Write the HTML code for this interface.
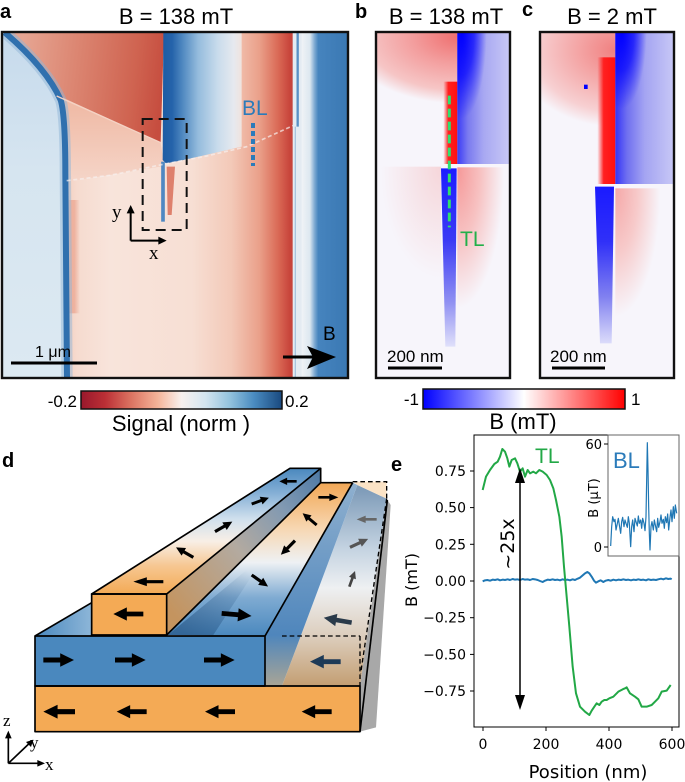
<!DOCTYPE html>
<html><head><meta charset="utf-8">
<style>
html,body{margin:0;padding:0;background:#fff;}
svg{display:block;}
.t{font-family:"Liberation Sans",Arial,sans-serif;}
.d{font-family:"DejaVu Sans","Liberation Sans",sans-serif;}
.s{font-family:"Liberation Serif",serif;}
</style></head><body>
<svg width="685" height="782" viewBox="0 0 685 782" xmlns="http://www.w3.org/2000/svg">
<defs>
<clipPath id="cA"><rect x="5" y="97" width="1038" height="1036"/></clipPath>
<clipPath id="cB"><rect x="47" y="97" width="403" height="1036"/></clipPath>
<clipPath id="cC"><rect x="540" y="97" width="402" height="1036"/></clipPath>
<linearGradient id="gAmid" gradientUnits="userSpaceOnUse" x1="190" y1="0" x2="890" y2="0">
<stop offset="0" stop-color="#f3cdbd"/><stop offset="0.06" stop-color="#f6dbcf"/><stop offset="0.2" stop-color="#f8e4db"/><stop offset="0.55" stop-color="#f7dfd4"/><stop offset="0.72" stop-color="#f3c9b8"/><stop offset="0.84" stop-color="#eaa08a"/><stop offset="0.92" stop-color="#da6a56"/><stop offset="0.97" stop-color="#c8453c"/><stop offset="1" stop-color="#c3423a"/>
</linearGradient>
<linearGradient id="gAstr" gradientUnits="userSpaceOnUse" x1="198" y1="0" x2="240" y2="0">
<stop offset="0" stop-color="#eca893" stop-opacity="0"/><stop offset="0.35" stop-color="#eca893" stop-opacity="0.8"/><stop offset="0.6" stop-color="#eca893" stop-opacity="0.8"/><stop offset="1" stop-color="#eca893" stop-opacity="0"/>
</linearGradient>
<linearGradient id="gAleft" gradientUnits="userSpaceOnUse" x1="0" y1="97" x2="0" y2="1133">
<stop offset="0" stop-color="#c6daec"/><stop offset="0.4" stop-color="#d6e5f0"/><stop offset="1" stop-color="#dce9f2"/>
</linearGradient>
<linearGradient id="gAred" gradientUnits="userSpaceOnUse" x1="60" y1="200" x2="490" y2="250">
<stop offset="0" stop-color="#e6a592"/><stop offset="0.4" stop-color="#db8470"/><stop offset="0.8" stop-color="#cf6350"/><stop offset="1" stop-color="#c64d3f"/>
</linearGradient>
<linearGradient id="gAsal" gradientUnits="userSpaceOnUse" x1="0" y1="330" x2="0" y2="545">
<stop offset="0" stop-color="#f0bca8"/><stop offset="1" stop-color="#f5d5c8"/>
</linearGradient>
<linearGradient id="gAblue" gradientUnits="userSpaceOnUse" x1="488" y1="0" x2="725" y2="0">
<stop offset="0" stop-color="#1d5ca4"/><stop offset="0.12" stop-color="#2563aa"/><stop offset="0.25" stop-color="#4f88c0"/><stop offset="0.45" stop-color="#95bcdd"/><stop offset="0.7" stop-color="#c9dcec"/><stop offset="0.9" stop-color="#e6e9ef"/><stop offset="1" stop-color="#f0e3de"/>
</linearGradient>
<linearGradient id="gAright" gradientUnits="userSpaceOnUse" x1="905" y1="0" x2="1043" y2="0">
<stop offset="0" stop-color="#f0f3f6"/><stop offset="0.18" stop-color="#dce7f0"/><stop offset="0.28" stop-color="#7eaad2"/><stop offset="0.36" stop-color="#4684be"/><stop offset="1" stop-color="#3a78b3"/>
</linearGradient>
<radialGradient id="rBul" gradientUnits="userSpaceOnUse" cx="0" cy="0" r="1" gradientTransform="translate(292,110) scale(340,200)">
<stop offset="0" stop-color="#ef7070"/><stop offset="0.4" stop-color="#f39e9e"/><stop offset="0.8" stop-color="#f6c6c6"/><stop offset="1" stop-color="#f7f5fb"/>
</radialGradient>
<linearGradient id="gRedS" x1="0" y1="0" x2="1" y2="0">
<stop offset="0" stop-color="#ff3030" stop-opacity="0"/><stop offset="0.35" stop-color="#ff2020"/><stop offset="1" stop-color="#ff1010"/>
</linearGradient>
<linearGradient id="gBbh" gradientUnits="userSpaceOnUse" x1="292" y1="0" x2="450" y2="0">
<stop offset="0" stop-color="#3c3cf6"/><stop offset="0.2" stop-color="#7a7af0"/><stop offset="0.5" stop-color="#a8a8f2"/><stop offset="1" stop-color="#c8c8f6"/>
</linearGradient>
<radialGradient id="rBdk" gradientUnits="userSpaceOnUse" cx="0" cy="0" r="1" gradientTransform="translate(305,97) scale(75,260)">
<stop offset="0" stop-color="#0000ff" stop-opacity="1"/><stop offset="0.5" stop-color="#0000ff" stop-opacity="0.7"/><stop offset="1" stop-color="#0000ff" stop-opacity="0"/>
</radialGradient>
<linearGradient id="gBlb" gradientUnits="userSpaceOnUse" x1="0" y1="505" x2="0" y2="1040">
<stop offset="0" stop-color="#1c1cff"/><stop offset="0.4" stop-color="#3a3af5"/><stop offset="0.75" stop-color="#9090f2"/><stop offset="1" stop-color="#e0e0fa"/>
</linearGradient>
<radialGradient id="rBlr" gradientUnits="userSpaceOnUse" cx="0" cy="0" r="1" gradientTransform="translate(292,505) scale(140,420)">
<stop offset="0" stop-color="#f59898"/><stop offset="0.5" stop-color="#f7c2c2"/><stop offset="1" stop-color="#f7f5fb"/>
</radialGradient>
<radialGradient id="rBll" gradientUnits="userSpaceOnUse" cx="0" cy="0" r="1" gradientTransform="translate(243,505) scale(180,330)">
<stop offset="0" stop-color="#f6d6da"/><stop offset="1" stop-color="#f7f5fb"/>
</radialGradient>
<radialGradient id="rCul" gradientUnits="userSpaceOnUse" cx="0" cy="0" r="1" gradientTransform="translate(766,150) scale(300,230)">
<stop offset="0" stop-color="#f08080"/><stop offset="0.4" stop-color="#f4a8a8"/><stop offset="0.8" stop-color="#f7d0d2"/><stop offset="1" stop-color="#f7f5fb"/>
</radialGradient>
<linearGradient id="gCbh" gradientUnits="userSpaceOnUse" x1="766" y1="0" x2="942" y2="0">
<stop offset="0" stop-color="#3434f8"/><stop offset="0.2" stop-color="#7070f0"/><stop offset="0.5" stop-color="#a4a4f2"/><stop offset="1" stop-color="#c8c8f6"/>
</linearGradient>
<radialGradient id="rCdk" gradientUnits="userSpaceOnUse" cx="0" cy="0" r="1" gradientTransform="translate(785,97) scale(75,230)">
<stop offset="0" stop-color="#0000ff" stop-opacity="1"/><stop offset="0.5" stop-color="#0000ff" stop-opacity="0.7"/><stop offset="1" stop-color="#0000ff" stop-opacity="0"/>
</radialGradient>
<linearGradient id="gClb" gradientUnits="userSpaceOnUse" x1="0" y1="560" x2="0" y2="1030">
<stop offset="0" stop-color="#1a1aff"/><stop offset="0.35" stop-color="#3030f8"/><stop offset="0.7" stop-color="#8080f0"/><stop offset="1" stop-color="#dcdcfa"/>
</linearGradient>
<radialGradient id="rClr" gradientUnits="userSpaceOnUse" cx="0" cy="0" r="1" gradientTransform="translate(766,570) scale(135,380)">
<stop offset="0" stop-color="#f5a8a8"/><stop offset="0.5" stop-color="#f7caca"/><stop offset="1" stop-color="#f7f5fb"/>
</radialGradient>
<linearGradient id="gRdBu" x1="0" y1="0" x2="1" y2="0">
<stop offset="0" stop-color="#98182c"/><stop offset="0.12" stop-color="#bb2f35"/><stop offset="0.25" stop-color="#dc7462"/><stop offset="0.38" stop-color="#f4b398"/><stop offset="0.5" stop-color="#f7f1ee"/><stop offset="0.62" stop-color="#d3e5f0"/><stop offset="0.74" stop-color="#93c3de"/><stop offset="0.86" stop-color="#4a8cc1"/><stop offset="1" stop-color="#19497f"/>
</linearGradient>
<linearGradient id="gBwr" x1="0" y1="0" x2="1" y2="0">
<stop offset="0" stop-color="#0000ff"/><stop offset="0.5" stop-color="#ffffff"/><stop offset="1" stop-color="#ff0000"/>
</linearGradient>
<linearGradient id="gDb1t" gradientUnits="userSpaceOnUse" x1="0" y1="462" x2="0" y2="85">
<stop offset="0" stop-color="#f4aa55"/><stop offset="0.22" stop-color="#f6c690"/><stop offset="0.42" stop-color="#f8efe6"/><stop offset="0.6" stop-color="#cfdfed"/><stop offset="0.8" stop-color="#86b0d6"/><stop offset="1" stop-color="#4a88be"/>
</linearGradient>
<linearGradient id="gDb1s" gradientUnits="userSpaceOnUse" x1="500" y1="500" x2="962" y2="100">
<stop offset="0" stop-color="#c4945f"/><stop offset="0.45" stop-color="#b3aaa0"/><stop offset="0.75" stop-color="#8199b2"/><stop offset="1" stop-color="#4f7aa5"/>
</linearGradient>
<linearGradient id="gDs2" gradientUnits="userSpaceOnUse" x1="0" y1="588" x2="0" y2="128">
<stop offset="0" stop-color="#4a88be"/><stop offset="0.25" stop-color="#7fabd2"/><stop offset="0.48" stop-color="#eef1f4"/><stop offset="0.7" stop-color="#f7d7b2"/><stop offset="1" stop-color="#f2a755"/>
</linearGradient>
<linearGradient id="gDsh" gradientUnits="userSpaceOnUse" x1="560" y1="585" x2="740" y2="390">
<stop offset="0" stop-color="#1f4a78" stop-opacity="0.55"/><stop offset="1" stop-color="#1f4a78" stop-opacity="0"/>
</linearGradient>
<linearGradient id="gDside" gradientUnits="userSpaceOnUse" x1="0" y1="128" x2="0" y2="738">
<stop offset="0" stop-color="#8fb0cf"/><stop offset="0.75" stop-color="#4f86bc"/><stop offset="1" stop-color="#a9a596"/>
</linearGradient>
<linearGradient id="gDr" gradientUnits="userSpaceOnUse" x1="0" y1="150" x2="0" y2="738">
<stop offset="0" stop-color="#7f9cb9"/><stop offset="0.3" stop-color="#c4d3e1"/><stop offset="0.5" stop-color="#eef0f2"/><stop offset="0.75" stop-color="#dccdbc"/><stop offset="1" stop-color="#c39e72"/>
</linearGradient>
<linearGradient id="gDw" gradientUnits="userSpaceOnUse" x1="105" y1="0" x2="275" y2="0">
<stop offset="0" stop-color="#4a88be"/><stop offset="1" stop-color="#8db6d8"/>
</linearGradient>
<path id="arr" d="M0,-8H55V-22L100,0L55,22V8H0Z"/>
</defs>

<rect width="685" height="782" fill="#fff"/>

<!-- ============ Panel a ============ -->
<g transform="scale(0.333333)">
<g clip-path="url(#cA)">
<rect x="5" y="97" width="1038" height="1036" fill="#f7e2d8"/>
<rect x="190" y="97" width="700" height="1036" fill="url(#gAmid)"/>
<rect x="198" y="600" width="42" height="340" fill="url(#gAstr)"/>
<path d="M5,97 L22,97 Q140,205 182,300 Q196,345 196,520 L201,1133 L5,1133 Z" fill="url(#gAleft)"/>
<path d="M30,97 Q140,200 186,292 L482,428 L492,97 Z" fill="url(#gAred)"/>
<path d="M186,292 L482,428 L492,498 L330,525 L200,545 L194,400 Z" fill="url(#gAsal)"/>
<path d="M14,97 Q140,205 182,300 Q196,345 196,520 L201,1133" fill="none" stroke="#8fb5d8" stroke-width="34" opacity="0.5"/>
<path d="M14,97 Q140,205 182,300 Q196,345 196,520 L201,1133" fill="none" stroke="#3070ae" stroke-width="18"/>
<path d="M490,97 L725,97 L725,440 L560,478 L498,490 L488,480 Z" fill="url(#gAblue)"/>
<line x1="170" y1="288" x2="482" y2="428" stroke="#f4d2c4" stroke-width="4"/>
<line x1="489" y1="485" x2="489" y2="665" stroke="#4f88c2" stroke-width="11"/>
<path d="M500,500 L525,500 L515,645 L503,645 Z" fill="#de806c"/>
<polyline points="200,542 330,526 490,493 620,468 740,440 890,372" fill="none" stroke="#f6f0ee" stroke-width="5" stroke-dasharray="12 8" opacity="0.7"/>
<rect x="878" y="97" width="30" height="1036" fill="#e4ebf2"/>
<line x1="893" y1="97" x2="893" y2="380" stroke="#5a90c4" stroke-width="7"/>
<line x1="886" y1="380" x2="886" y2="1133" stroke="#a9c5de" stroke-width="4"/>
<rect x="905" y="97" width="138" height="1036" fill="url(#gAright)"/>
</g>
<rect x="428" y="357" width="132" height="333" fill="none" stroke="#111" stroke-width="6" stroke-dasharray="30 18"/>
<line x1="392" y1="722" x2="392" y2="635" stroke="#000" stroke-width="6"/>
<polygon points="392,615 380,640 404,640" fill="#000"/>
<line x1="392" y1="722" x2="480" y2="722" stroke="#000" stroke-width="6"/>
<polygon points="500,722 475,710 475,734" fill="#000"/>
</g>
<rect x="2" y="32" width="346" height="346" fill="none" stroke="#111" stroke-width="2.4"/>
<text class="t" x="0" y="18" font-size="20" font-weight="bold">a</text>
<text class="t" x="176" y="24" font-size="22" text-anchor="middle">B = 138 mT</text>
<text class="t" x="242" y="115" font-size="21" fill="#2b7bba">BL</text>
<line x1="253" y1="123" x2="253" y2="166" stroke="#2b7bba" stroke-width="4" stroke-dasharray="5 3"/>
<text class="s" x="112" y="218" font-size="19">y</text>
<text class="s" x="149" y="259" font-size="19">x</text>
<line x1="11" y1="363" x2="97" y2="363" stroke="#000" stroke-width="3"/>
<text class="t" x="35" y="357" font-size="16">1 μm</text>
<text class="t" x="323" y="340" font-size="19">B</text>
<line x1="283" y1="357" x2="313" y2="357" stroke="#000" stroke-width="3"/>
<polygon points="307,346 336,357 307,369 313,357" fill="#000"/>

<!-- colorbar a -->
<rect x="81" y="391" width="201" height="18" fill="url(#gRdBu)" stroke="#111" stroke-width="1.5"/>
<text class="t" x="77" y="407" font-size="17" text-anchor="end">-0.2</text>
<text class="t" x="285" y="407" font-size="17">0.2</text>
<text class="t" x="181" y="431" font-size="22" text-anchor="middle">Signal (norm )</text>

<!-- ============ Panel b & c ============ -->
<g transform="translate(360,0) scale(0.333333)">
<g clip-path="url(#cB)">
<rect x="47" y="97" width="403" height="1036" fill="#f7f5fb"/>
<rect x="47" y="97" width="245" height="395" fill="url(#rBul)"/>
<rect x="47" y="500" width="196" height="400" fill="url(#rBll)"/>
<rect x="250" y="245" width="42" height="247" fill="url(#gRedS)"/>
<rect x="292" y="97" width="158" height="395" fill="url(#gBbh)"/>
<rect x="292" y="97" width="158" height="395" fill="url(#rBdk)"/>
<rect x="292" y="502" width="158" height="500" fill="url(#rBlr)"/>
<path d="M243,505 L290,505 L286,1040 L256,1040 Z" fill="url(#gBlb)"/>
<line x1="268" y1="287" x2="268" y2="682" stroke="#2fe070" stroke-width="9" stroke-dasharray="26 13"/>
</g>
<g clip-path="url(#cC)">
<rect x="540" y="97" width="402" height="1036" fill="#f7f5fb"/>
<rect x="540" y="97" width="226" height="455" fill="url(#rCul)"/>
<rect x="712" y="172" width="54" height="380" fill="url(#gRedS)"/>
<rect x="766" y="97" width="176" height="455" fill="url(#gCbh)"/>
<rect x="766" y="97" width="176" height="455" fill="url(#rCdk)"/>
<rect x="766" y="565" width="176" height="480" fill="url(#rClr)"/>
<path d="M705,560 L762,560 L755,1030 L720,1030 Z" fill="url(#gClb)"/>
<rect x="672" y="254" width="11" height="13" fill="#0000ff"/>
</g>
</g>
<rect x="376" y="32" width="134" height="346" fill="none" stroke="#111" stroke-width="2.4"/>
<rect x="540" y="32" width="134" height="346" fill="none" stroke="#111" stroke-width="2.4"/>
<text class="t" x="355" y="18" font-size="20" font-weight="bold">b</text>
<text class="t" x="446" y="24" font-size="22" text-anchor="middle">B = 138 mT</text>
<text class="t" x="522" y="16" font-size="20" font-weight="bold">c</text>
<text class="t" x="612" y="24" font-size="22" text-anchor="middle">B = 2 mT</text>
<text class="t" x="460" y="246" font-size="21" fill="#22b04a">TL</text>
<line x1="388" y1="368" x2="442" y2="368" stroke="#000" stroke-width="3"/>
<text class="t" x="387" y="362" font-size="17">200 nm</text>
<line x1="552" y1="368" x2="605" y2="368" stroke="#000" stroke-width="3"/>
<text class="t" x="550" y="362" font-size="17">200 nm</text>

<!-- colorbar b -->
<rect x="423" y="389" width="202" height="20" fill="url(#gBwr)" stroke="#111" stroke-width="1.5"/>
<text class="t" x="419" y="405" font-size="17" text-anchor="end">-1</text>
<text class="t" x="631" y="405" font-size="17">1</text>
<text class="t" x="523" y="429" font-size="22" text-anchor="middle">B (mT)</text>

<!-- ============ Panel d ============ -->
<text class="t" x="2" y="467" font-size="20" font-weight="bold">d</text>
<g transform="translate(0,440) scale(0.333333)">
<polygon points="1080,875 1128,862 1172,195 1160,176 1080,738" fill="#a8a8a8"/>
<polygon points="846,738 1072,135 1160,176 1080,738" fill="url(#gDr)"/>
<polygon points="1058,125 1160,125 1160,176 1072,135" fill="#fbe3c6"/>
<polygon points="795,588 1058,128 1072,135 846,738 795,738" fill="url(#gDside)"/>
<polygon points="500,585 795,588 1058,128 962,128" fill="url(#gDs2)"/>
<polygon points="504,585 640,585 780,370 740,390" fill="url(#gDsh)"/>
<polygon points="500,462 962,85 962,128 500,585" fill="url(#gDb1s)"/>
<polygon points="275,462 500,462 962,85 870,85" fill="url(#gDb1t)"/>
<polygon points="105,588 275,488 275,588" fill="url(#gDw)"/>
<rect x="275" y="462" width="225" height="123" fill="#f4aa55"/>
<rect x="105" y="588" width="690" height="150" fill="#4a88be"/>
<rect x="105" y="738" width="975" height="137" fill="#f4aa55"/>
<g fill="none" stroke="#000" stroke-width="5" stroke-linejoin="round">
<polygon points="275,462 500,462 962,85 870,85"/>
<rect x="275" y="462" width="225" height="123"/>
<line x1="962" y1="85" x2="962" y2="128"/>
<line x1="500" y1="585" x2="962" y2="128"/>
<line x1="795" y1="588" x2="1058" y2="128"/>
<line x1="962" y1="128" x2="1058" y2="128"/>
<line x1="105" y1="588" x2="275" y2="488"/>
<rect x="105" y="588" width="690" height="150"/>
<rect x="105" y="738" width="975" height="137"/>
<line x1="1080" y1="875" x2="1162" y2="180"/>
</g>
<g fill="none" stroke="#000" stroke-width="4" stroke-dasharray="14 9">
<line x1="846" y1="588" x2="1080" y2="588"/>
<line x1="1080" y1="588" x2="1080" y2="738"/>
<polyline points="1058,125 1160,125 1160,176"/>
<line x1="1160" y1="176" x2="1082" y2="700"/>
</g>
<!-- arrows -->
<use href="#arr" transform="translate(225,815) rotate(180) scale(0.95)"/>
<use href="#arr" transform="translate(440,815) rotate(180) scale(0.9)"/>
<use href="#arr" transform="translate(705,815) rotate(180) scale(0.9)"/>
<use href="#arr" transform="translate(995,815) rotate(180) scale(0.9)"/>
<use href="#arr" transform="translate(130,660) scale(0.92)"/>
<use href="#arr" transform="translate(345,660) scale(0.92)"/>
<use href="#arr" transform="translate(612,660) scale(0.92)"/>
<use href="#arr" transform="translate(430,522) rotate(180) scale(0.9)"/>
<use href="#arr" fill="#1d3a57" transform="translate(1022,665) rotate(180) scale(0.92)"/>
<use href="#arr" transform="translate(490,425) rotate(180) scale(0.9,0.6)"/>
<use href="#arr" transform="translate(580,352) rotate(-150) scale(0.6)"/>
<use href="#arr" transform="translate(645,275) rotate(-30) scale(0.6)"/>
<use href="#arr" transform="translate(755,192) rotate(-20) scale(0.55)"/>
<use href="#arr" transform="translate(890,124) rotate(180) scale(0.52,0.5)"/>
<use href="#arr" transform="translate(665,520) rotate(5) scale(0.9)"/>
<use href="#arr" transform="translate(755,405) rotate(35) scale(0.6)"/>
<use href="#arr" transform="translate(885,302) rotate(135) scale(0.6)"/>
<use href="#arr" transform="translate(950,255) rotate(-140) scale(0.55)"/>
<use href="#arr" transform="translate(955,172) scale(0.6,0.5)"/>
<use href="#arr" fill="#2a3a4a" transform="translate(1055,548) rotate(190) scale(0.85)"/>
<use href="#arr" fill="#444" transform="translate(1048,440) rotate(-70) scale(0.5)"/>
<use href="#arr" fill="#555" transform="translate(1050,322) rotate(-25) scale(0.6)"/>
<use href="#arr" fill="#666" transform="translate(1130,238) rotate(180) scale(0.6,0.5)"/>
<!-- axes indicator -->
<g stroke="#000" stroke-width="5">
<line x1="25" y1="970" x2="25" y2="890"/>
<line x1="25" y1="970" x2="118" y2="970"/>
<line x1="25" y1="970" x2="86" y2="912"/>
</g>
<polygon points="25,872 15,895 35,895" fill="#000"/>
<polygon points="135,970 112,960 112,980" fill="#000"/>
<polygon points="100,899 78,906 93,921" fill="#000"/>
</g>
<text class="s" x="3" y="726" font-size="17">z</text>
<text class="s" x="30" y="748" font-size="17">y</text>
<text class="s" x="45" y="770" font-size="17">x</text>

<!-- ============ Panel e ============ -->
<text class="t" x="391" y="471" font-size="20" font-weight="bold">e</text>
<g class="d" font-size="14" fill="#000">
<text x="466" y="476" text-anchor="end">0.75</text>
<text x="466" y="512.6" text-anchor="end">0.50</text>
<text x="466" y="549.3" text-anchor="end">0.25</text>
<text x="466" y="586" text-anchor="end">0.00</text>
<text x="466" y="622.7" text-anchor="end">−0.25</text>
<text x="466" y="659.4" text-anchor="end">−0.50</text>
<text x="466" y="696" text-anchor="end">−0.75</text>
<text x="483" y="749" text-anchor="middle">0</text>
<text x="546" y="749" text-anchor="middle">200</text>
<text x="609" y="749" text-anchor="middle">400</text>
<text x="672" y="749" text-anchor="middle">600</text>
</g>
<g stroke="#000" stroke-width="1">
<line x1="470" y1="471" x2="474" y2="471"/>
<line x1="470" y1="507.6" x2="474" y2="507.6"/>
<line x1="470" y1="544.3" x2="474" y2="544.3"/>
<line x1="470" y1="581" x2="474" y2="581"/>
<line x1="470" y1="617.7" x2="474" y2="617.7"/>
<line x1="470" y1="654.4" x2="474" y2="654.4"/>
<line x1="470" y1="691" x2="474" y2="691"/>
<line x1="483" y1="727" x2="483" y2="731"/>
<line x1="546" y1="727" x2="546" y2="731"/>
<line x1="609" y1="727" x2="609" y2="731"/>
<line x1="672" y1="727" x2="672" y2="731"/>
</g>
<text class="d" x="588" y="778" font-size="18" text-anchor="middle">Position (nm)</text>
<text class="d" transform="translate(417,580) rotate(-90)" font-size="16" text-anchor="middle">B (mT)</text>

<g transform="translate(400,440) scale(0.333333)" fill="none" stroke-linejoin="round">
<polyline stroke="#1f77b4" stroke-width="6" points="248,424 255,421 262,420 270,422 278,419 285,420 293,418 300,421 308,419 315,420 323,418 330,420 338,417 345,419 352,418 360,420 368,417 375,419 383,418 390,420 398,417 405,418 413,420 420,423 428,426 435,422 443,419 450,420 458,418 465,420 473,419 480,421 488,418 495,420 503,419 510,421 518,418 525,420 533,416 540,413 548,406 555,400 562,396 568,400 575,410 582,422 588,428 595,424 602,421 610,426 617,422 625,420 632,422 640,419 648,421 655,419 663,420 670,418 678,420 685,419 693,421 700,419 708,420 715,418 723,420 730,419 738,421 745,418 753,420 760,419 768,420 775,418 783,416 790,418 798,415 805,417 812,416 815,418"/>
<polyline stroke="#22a846" stroke-width="6" points="248,150 258,110 270,90 283,72 293,65 300,50 307,27 315,35 322,55 328,80 335,60 345,55 352,70 360,95 368,85 375,110 383,90 390,100 400,95 408,100 418,90 428,95 440,105 450,120 460,145 468,180 478,230 485,290 492,380 500,470 508,560 518,680 528,760 540,800 555,815 568,825 575,812 583,800 590,790 598,795 605,785 613,780 620,780 628,775 640,770 655,755 668,748 675,745 680,742 690,760 705,770 715,778 725,800 740,800 755,795 765,785 775,775 785,755 800,752 812,735"/>
</g>
<!-- double arrow -->
<line x1="520" y1="480" x2="520" y2="698" stroke="#000" stroke-width="1.5"/>
<polygon points="520,468 515,483 525,483" fill="#000"/>
<polygon points="520,710 515,695 525,695" fill="#000"/>
<text class="d" transform="translate(514,544) rotate(-90)" font-size="19" text-anchor="middle">~25x</text>
<text class="t" x="535" y="463" font-size="21" fill="#22a846">TL</text>
<rect x="474" y="435" width="205" height="292" fill="none" stroke="#000" stroke-width="1"/>

<!-- inset -->
<rect x="608" y="435" width="71" height="121" fill="#fff" stroke="#666" stroke-width="1"/>
<g transform="translate(400,440) scale(0.333333)">
<polyline fill="none" stroke="#1f77b4" stroke-width="3.6" stroke-linejoin="round" points="632,318 635,260 638,230 642,245 645,238 648,270 652,250 655,235 658,255 662,280 665,245 668,232 672,260 675,240 678,250 682,262 685,230 688,250 692,320 695,260 698,240 702,275 705,235 708,245 712,258 715,228 718,250 722,240 725,265 728,235 732,250 735,272 738,230 740,120 742,8 744,90 746,200 748,280 750,330 753,260 756,245 760,270 763,240 766,255 770,275 773,235 776,262 780,245 783,225 786,250 790,238 793,265 796,230 800,248 803,222 806,270 810,232 813,210 816,245 820,200 823,235 826,195 830,220"/>
</g>
<g stroke="#000" stroke-width="1">
<line x1="604" y1="444" x2="608" y2="444"/>
<line x1="604" y1="547" x2="608" y2="547"/>
</g>
<text class="d" x="602" y="449" font-size="13" text-anchor="end">60</text>
<text class="d" x="602" y="552" font-size="13" text-anchor="end">0</text>
<text class="d" transform="translate(598,498) rotate(-90)" font-size="13" text-anchor="middle">B (μT)</text>
<text class="t" x="613" y="468" font-size="22" fill="#2b7bba">BL</text>
</svg>
</body></html>
